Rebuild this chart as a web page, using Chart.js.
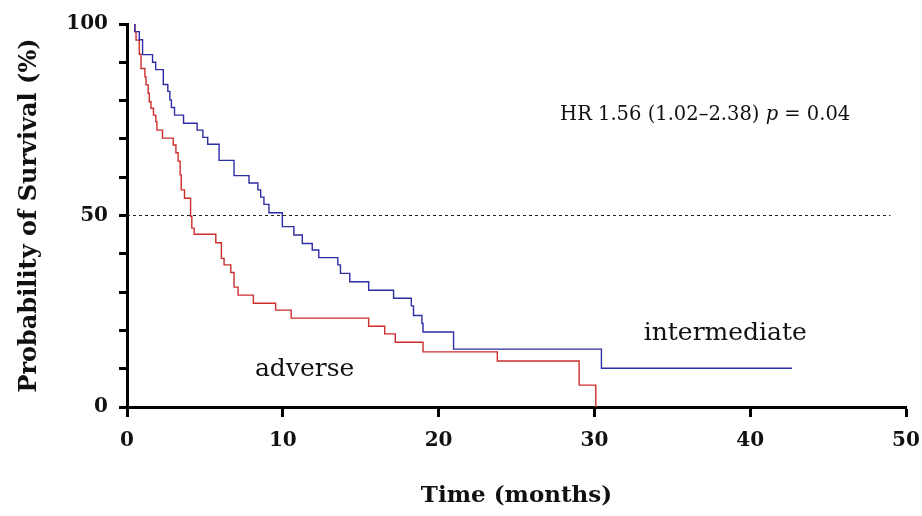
<!DOCTYPE html>
<html>
<head>
<meta charset="utf-8">
<script src="https://cdn.jsdelivr.net/npm/chart.js@4/dist/chart.umd.min.js"></script>
<style>
  body { margin: 0; background: #fff; }
  #wrap { width: 922px; height: 516px; position: relative; }
</style>
</head>
<body>
<div id="wrap"><canvas id="kmChart"></canvas></div>
<script>
// Kaplan-Meier curves, time in months, survival in %
var tempoIntermediario = [0.45, 0.5, 0.79, 1.0, 1.64, 1.84, 2.33, 2.62, 2.75, 2.85, 3.05, 3.63, 4.5, 4.87, 5.18, 5.91, 6.87, 7.83, 8.4, 8.58, 8.79, 9.11, 9.97, 10.71, 11.25, 11.89, 12.31, 13.53, 13.7, 14.3, 15.51, 17.11, 18.25, 18.39, 18.93, 19.0, 20.96, 30.45, 42.68];
var sobrevIntermediario = [100, 98.0, 95.9, 92.0, 90.0, 88.1, 84.2, 82.4, 80.2, 78.2, 76.2, 74.1, 72.3, 70.4, 68.6, 64.4, 60.4, 58.5, 56.7, 54.8, 52.9, 50.7, 47.1, 44.9, 42.7, 41.0, 39.0, 37.1, 34.9, 32.7, 30.5, 28.4, 26.4, 23.9, 21.8, 19.6, 15.1, 10.1, 10.1];

var tempoAdverso = [0.45, 0.51, 0.58, 0.79, 0.9, 1.15, 1.22, 1.36, 1.43, 1.54, 1.7, 1.85, 1.92, 2.28, 2.97, 3.14, 3.28, 3.41, 3.48, 3.69, 4.08, 4.16, 4.31, 5.7, 6.06, 6.23, 6.66, 6.87, 7.13, 8.11, 9.54, 10.54, 15.51, 16.54, 17.22, 19.0, 23.77, 29.02, 30.09];
var sobrevAdverso = [100, 98.0, 95.8, 92.1, 88.4, 86.2, 84.1, 81.9, 79.7, 78.0, 76.2, 74.5, 72.3, 70.2, 68.4, 66.4, 64.2, 60.6, 56.7, 54.5, 49.8, 46.7, 45.1, 42.9, 38.8, 37.1, 35.1, 31.3, 29.2, 27.1, 25.3, 23.2, 21.1, 19.1, 16.9, 14.4, 12.0, 5.7, 0];

var linhaMediana = [50, 50];
var linhaMedianaX = [0, 49];

var ticksY = [0, 50, 100];

var serif = "'DejaVu Serif', serif";

function montarPontos(xs, ys) {
    var pts = [];
    for (var i = 0; i < xs.length; i++) {
        pts.push({ x: xs[i], y: ys[i] });
    }
    return pts;
}

var rotulos = {
    id: 'rotulos',
    afterDatasetsDraw: function(chart) {
        var ctx = chart.ctx;
        var sx = chart.scales.x;
        var sy = chart.scales.y;
        ctx.save();
        ctx.fillStyle = '#111';
        ctx.textBaseline = 'middle';

        // HR text with italic p
        var px = sx.getPixelForValue(27.8);
        var py = sy.getPixelForValue(76.2);
        var partes = [
            { t: 'HR 1.56 (1.02\u20132.38) ', f: "19.5px " + serif },
            { t: 'p', f: "italic 19.5px " + serif },
            { t: ' = 0.04', f: "19.5px " + serif }
        ];
        ctx.textAlign = 'left';
        for (var i = 0; i < partes.length; i++) {
            ctx.font = partes[i].f;
            ctx.fillText(partes[i].t, px, py);
            px += ctx.measureText(partes[i].t).width;
        }

        ctx.font = "25px " + serif;
        ctx.textAlign = 'center';
        ctx.fillText('intermediate', sx.getPixelForValue(38.4), sy.getPixelForValue(19.1));
        ctx.fillText('adverse', sx.getPixelForValue(11.4), sy.getPixelForValue(9.7));
        ctx.restore();
    }
};

var ctx = document.getElementById('kmChart').getContext('2d');

new Chart(ctx, {
    type: 'line',
    data: {
        datasets: [
            {
                label: 'intermediate',
                data: montarPontos(tempoIntermediario, sobrevIntermediario),
                borderColor: 'rgb(45, 45, 165)',
                borderWidth: 1.4,
                stepped: true,
                pointRadius: 0,
                fill: false
            },
            {
                label: 'adverse',
                data: montarPontos(tempoAdverso, sobrevAdverso),
                borderColor: 'rgb(205, 45, 45)',
                borderWidth: 1.4,
                stepped: true,
                pointRadius: 0,
                fill: false
            },
            {
                label: 'median',
                data: montarPontos(linhaMedianaX, linhaMediana),
                borderColor: '#222',
                borderWidth: 1,
                borderDash: [3, 3],
                pointRadius: 0,
                fill: false
            }
        ]
    },
    options: {
        responsive: true,
        maintainAspectRatio: false,
        animation: false,
        layout: {
            padding: { left: 15, right: 16, top: 24, bottom: 6 }
        },
        plugins: {
            legend: { display: false },
            tooltip: { enabled: false }
        },
        scales: {
            x: {
                type: 'linear',
                min: 0,
                max: 50,
                afterFit: function(scale) {
                    scale.height = 103;
                    scale.paddingLeft = 0;
                    scale.paddingRight = 0;
                },
                ticks: {
                    stepSize: 10,
                    color: '#111',
                    padding: 12,
                    maxRotation: 0,
                    font: { family: serif, size: 20, weight: 'bold' }
                },
                grid: {
                    drawOnChartArea: false,
                    drawTicks: true,
                    tickLength: 10,
                    tickWidth: 3,
                    tickColor: '#000'
                },
                border: { display: true, color: '#000', width: 3 },
                title: {
                    display: true,
                    text: 'Time (months)',
                    color: '#111',
                    padding: 0,
                    font: { family: serif, size: 23, weight: 'bold' }
                }
            },
            y: {
                min: 0,
                max: 100,
                afterFit: function(scale) { scale.width = 112; },
                ticks: {
                    stepSize: 10,
                    color: '#111',
                    padding: 11,
                    font: { family: serif, size: 20, weight: 'bold' },
                    callback: function(v) {
                        return ticksY.indexOf(v) >= 0 ? v : '';
                    }
                },
                grid: {
                    drawOnChartArea: false,
                    drawTicks: true,
                    tickLength: 8,
                    tickWidth: 3,
                    tickColor: '#000'
                },
                border: { display: true, color: '#000', width: 3 },
                title: {
                    display: true,
                    text: 'Probability of Survival (%)',
                    color: '#111',
                    padding: 0,
                    font: { family: serif, size: 24, weight: 'bold' }
                }
            }
        }
    },
    plugins: [rotulos]
});
</script>
</body>
</html>
